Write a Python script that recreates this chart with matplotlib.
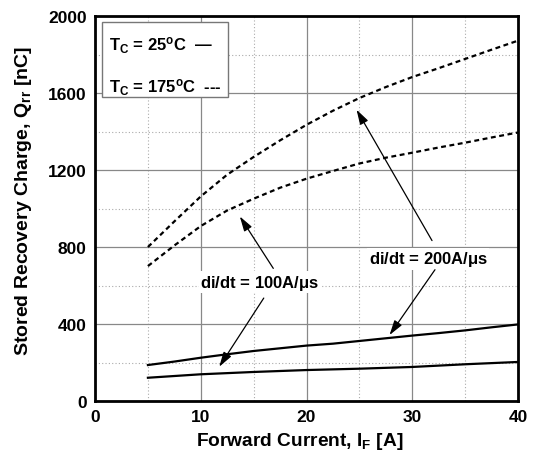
import matplotlib
matplotlib.use("Agg")
import matplotlib.pyplot as plt
from matplotlib.patches import Rectangle

plt.rcParams['font.family'] = ['Liberation Sans', 'DejaVu Sans']
plt.rcParams['mathtext.fontset'] = 'custom'
plt.rcParams['mathtext.rm'] = 'Liberation Sans:bold'
plt.rcParams['mathtext.it'] = 'Liberation Sans:bold'
plt.rcParams['mathtext.bf'] = 'Liberation Sans:bold'

current_fine = [5, 7.5, 10, 12.5, 15, 17.5, 20, 22.5, 25, 27.5, 30, 32.5, 35, 37.5, 40]
current = [5, 10, 15, 20, 25, 30, 35, 40]
q_25_200 = [187, 205, 225, 243, 260, 274, 288, 298, 312, 326, 340, 353, 367, 383, 398]
q_25_100 = [121, 139, 151, 161, 168, 177, 191, 203]
q_175_200 = [800, 933, 1063, 1176, 1268, 1354, 1435, 1508, 1574, 1631, 1683, 1729, 1777, 1825, 1872]
q_175_100 = [701, 808, 909, 990, 1051, 1108, 1155, 1195, 1234, 1264, 1290, 1317, 1342, 1369, 1395]

x_ticks = [0, 10, 20, 30, 40]
y_ticks = [0, 400, 800, 1200, 1600, 2000]

fig = plt.figure(figsize=(5.34, 4.6), dpi=100)
ax = fig.add_axes([0.178, 0.126, 0.792, 0.837])

ax.plot(current_fine, q_25_200, color='black', lw=1.6)
ax.plot(current, q_25_100, color='black', lw=1.6)
ax.plot(current_fine, q_175_200, color='black', lw=1.6, ls=(0, (2.2, 1.6)))
ax.plot(current_fine, q_175_100, color='black', lw=1.6, ls=(0, (2.2, 1.6)))

ax.set_xlim(0, 40)
ax.set_ylim(0, 2000)
ax.set_xticks(x_ticks)
ax.set_yticks(y_ticks)
ax.set_xticks([5, 15, 25, 35], minor=True)
ax.set_yticks([200, 600, 1000, 1400, 1800], minor=True)
ax.grid(which='major', color='#888888', lw=0.9)
ax.grid(which='minor', color='#aaaaaa', lw=0.8, ls=(0, (1, 2)))
ax.set_axisbelow(True)
ax.tick_params(which='both', length=0, labelsize=12.5, pad=6)
for lab in ax.get_xticklabels() + ax.get_yticklabels():
    lab.set_fontweight('bold')
for s in ax.spines.values():
    s.set_linewidth(2.0)

ax.set_xlabel(r"Forward Current, I$_\mathregular{F}$ [A]", fontsize=13.8, fontweight='bold', labelpad=4)
ax.xaxis.set_label_coords(0.485, -0.075)
ax.set_ylabel(r"Stored Recovery Charge, Q$_\mathregular{rr}$ [nC]", fontsize=14, fontweight='bold', labelpad=8)
ax.yaxis.set_label_coords(-0.145, 0.523)

# legend-like box
ax.add_patch(Rectangle((0.65, 1580), 11.9, 390, facecolor='white', edgecolor='#777777', lw=1.0, zorder=2))
ax.text(1.3, 1850, r"T$_\mathregular{C}$ = 25$^\mathregular{o}$C  —", fontsize=12, fontweight='bold', va='center', zorder=3)
ax.text(1.3, 1635, r"T$_\mathregular{C}$ = 175$^\mathregular{o}$C  ---", fontsize=12, fontweight='bold', va='center', zorder=3)

ax.text(15.6, 618, r"di/dt = 100A/$\mathregular{\mu}$s", fontsize=12, fontweight='bold', ha='center', va='center',
        bbox=dict(facecolor='white', edgecolor='none', pad=1))
ax.text(31.5, 738, r"di/dt = 200A/$\mathregular{\mu}$s", fontsize=12, fontweight='bold', ha='center', va='center',
        bbox=dict(facecolor='white', edgecolor='none', pad=1))

ap = dict(arrowstyle='-|>,head_length=0.6,head_width=0.18', color='black', lw=0.9, mutation_scale=15)
ax.annotate('', xy=(13.55, 971), xytext=(17.0, 677), arrowprops=ap)
ax.annotate('', xy=(11.6, 166), xytext=(16.1, 547), arrowprops=ap)
ax.annotate('', xy=(24.6, 1526), xytext=(32.0, 821), arrowprops=ap)
ax.annotate('', xy=(27.7, 331), xytext=(32.3, 694), arrowprops=ap)

fig.savefig("out.png", dpi=100)
